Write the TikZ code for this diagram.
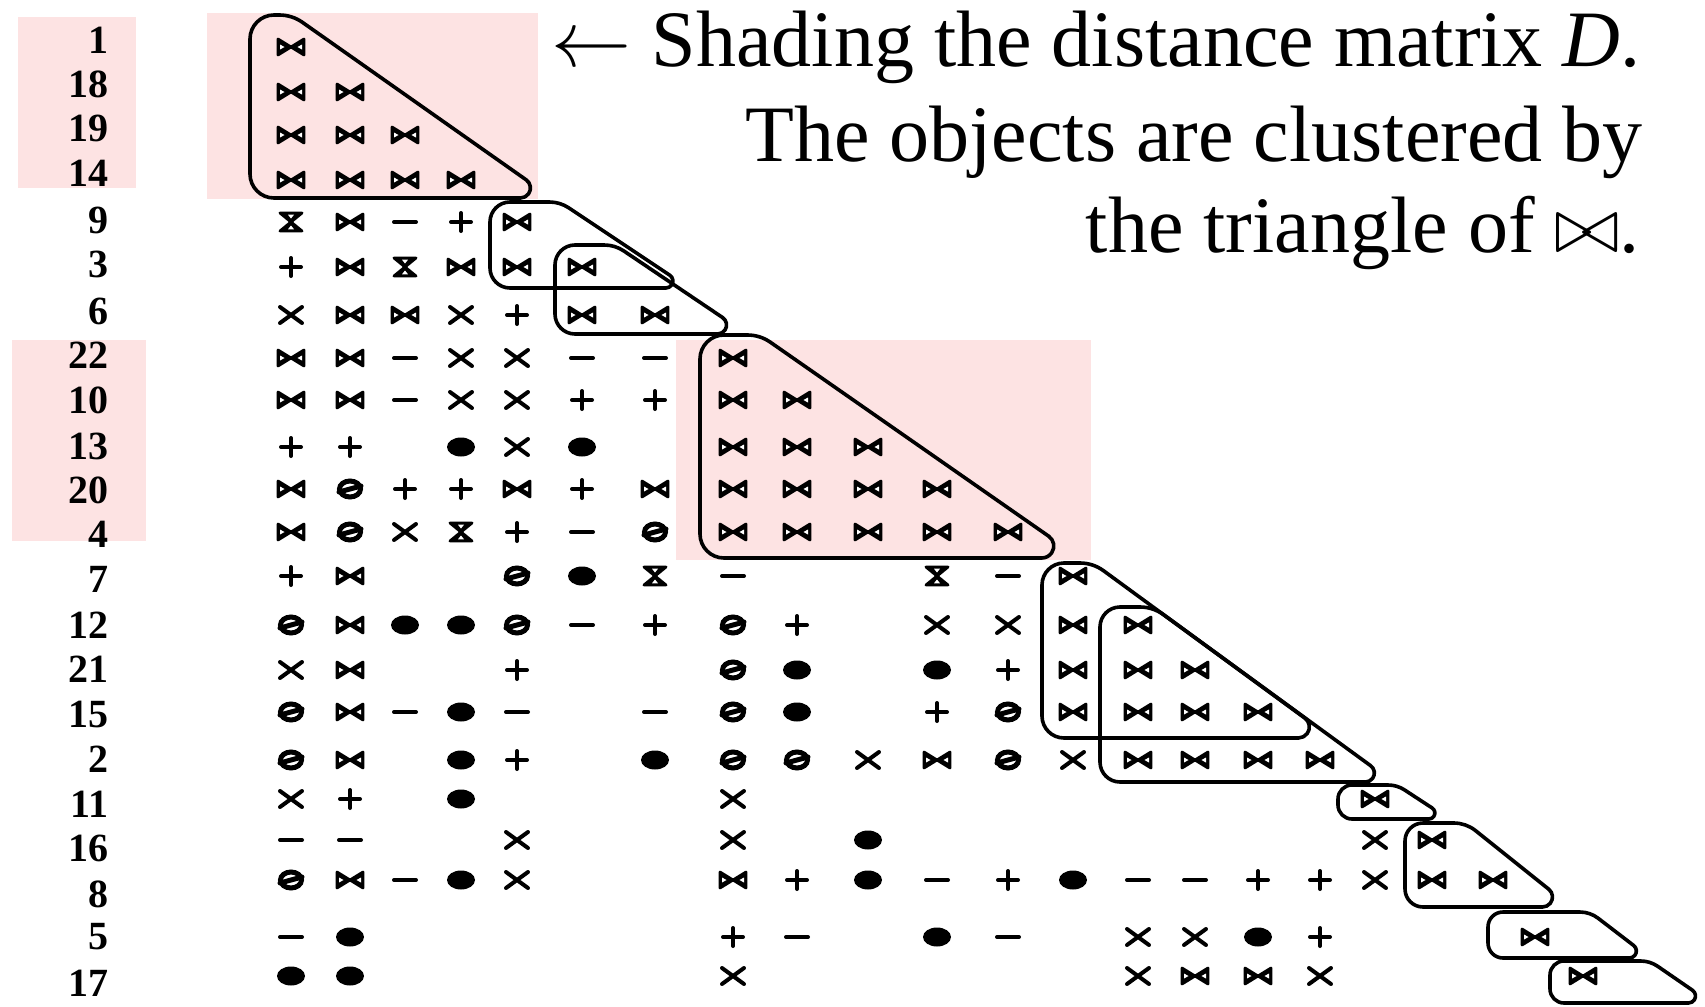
\RequirePackage{fix-cm}
\documentclass[tikz,border=0pt]{standalone}
\usepackage{fontspec}
\newfontfamily\tnr{Liberation Serif}
\definecolor{pinkbg}{RGB}{253,227,227}
% one matrix entry: #1 symbol code, #2 x, #3 y
\newcommand\symat[3]{%
 \begin{scope}[shift={(#2,#3)}]
 \if b#1\filldraw[symline] (-13,-8)--(-13,8)--(13,-8)--(13,8)--cycle;
   \fill[white] (-11,-2.5)--(-11,2.5)--(-6.5,0)--cycle (11,-2.5)--(11,2.5)--(6.5,0)--cycle;\fi
 \if h#1\filldraw[symline] (-11,-9)--(11,-9)--(-11,9)--(11,9)--cycle;
   \fill[white] (-3,-7.3)--(3,-7.3)--(0,-3.5)--cycle (-3,7.3)--(3,7.3)--(0,3.5)--cycle;\fi
 \if t#1\draw[boldsym] (0,0) ellipse[x radius=10.5,y radius=8];\draw[boldsym] (-11,3)--(11,-3);\fi
 \if x#1\draw[thinsym] (-11,-8)--(11,8) (-11,8)--(11,-8);\fi
 \if p#1\draw[thinsym] (-10,0)--(10,0) (0,-9)--(0,9);\fi
 \if m#1\draw[thinsym] (-11,0)--(11,0);\fi
 \if d#1\fill (0,0) ellipse[x radius=14,y radius=9.5];\fi
 \end{scope}}
% rounded right triangle: xL, yT, xT, xR, yB, left radius, top-right radius, tip radius
\newcommand\rtri[8]{%
 \pgfmathsetmacro\phiang{atan((#5-#2)/(#4-#3))}%
 \pgfmathsetmacro\tthree{#7*tan(\phiang/2)}%
 \pgfmathsetmacro\tfour{#8/tan(\phiang/2)}%
 \draw[triline] (#1,#5-#6) -- (#1,#2+#6)
   arc[start angle=180,end angle=270,radius=#6]
   -- ({#3-\tthree},#2)
   arc[start angle=270,end angle={270+\phiang},radius=#7]
   -- ({#4-\tfour*cos(\phiang)},{#5-\tfour*sin(\phiang)})
   arc[start angle={270+\phiang},end angle=450,radius=#8]
   -- (#1+#6,#5)
   arc[start angle=90,end angle=180,radius=#6] -- cycle;}
\begin{document}
\begin{tikzpicture}[x=0.5pt,y=-0.5pt,
  symline/.style={line width=1.4pt,line join=round,fill=black},
  boldsym/.style={line width=2.5pt,line cap=round},
  thinsym/.style={line width=2pt,line cap=round},
  triline/.style={line width=1.8pt,line join=round},
  lbl/.style={anchor=east,inner sep=0pt,font=\tnr\bfseries\fontsize{20}{24}\selectfont},
  txt/.style={anchor=base east,inner sep=0pt,font=\tnr\fontsize{40}{48}\selectfont}]
\useasboundingbox (0,0) rectangle (1705,1007);
\fill[white] (0,0) rectangle (1705,1007);
% shading
\fill[pinkbg] (18,17) rectangle (136,188);
\fill[pinkbg] (207,13) rectangle (538,199);
\fill[pinkbg] (12,340) rectangle (146,541);
\fill[pinkbg] (676,340) rectangle (1091,560);
% row labels
\def\laby{{40,84,128,173,220,264,311,355,400,446,490,534,579,625,669,714,759,804,848,894,937,983}}
\foreach \lab [count=\ii] in {1,18,19,14,9,3,6,22,10,13,20,4,7,12,21,15,2,11,16,8,5,17} {
  \pgfmathsetmacro\ly{\laby[\ii-1]}
  \node[lbl] (lab\ii) at (109,\ly) {\lab};
}
% matrix entries
\def\colx{{291,350,405,461,517,582,655,733,797,868,937,1008,1073,1138,1195,1258,1320,1375,1432,1493,1535,1583}}
\def\rowy{{47,92,135,180,222,267,315,358,400,447,489,532,576,625,670,712,760,799,840,880,937,976}}
\foreach \rowsyms [count=\ri] in {
 {b},
 {b,b},
 {b,b,b},
 {b,b,b,b},
 {h,b,m,p,b},
 {p,b,h,b,b,b},
 {x,b,b,x,p,b,b},
 {b,b,m,x,x,m,m,b},
 {b,b,m,x,x,p,p,b,b},
 {p,p,o,d,x,d,o,b,b,b},
 {b,t,p,p,b,p,b,b,b,b,b},
 {b,t,x,h,p,m,t,b,b,b,b,b},
 {p,b,o,o,t,d,h,m,o,o,h,m,b},
 {t,b,d,d,t,m,p,t,p,o,x,x,b,b},
 {x,b,o,o,p,o,o,t,d,o,d,p,b,b,b},
 {t,b,m,d,m,o,m,t,d,o,p,t,b,b,b,b},
 {t,b,o,d,p,o,d,t,t,x,b,t,x,b,b,b,b},
 {x,p,o,d,o,o,o,x,o,o,o,o,o,o,o,o,o,b},
 {m,m,o,o,x,o,o,x,o,d,o,o,o,o,o,o,o,x,b},
 {t,b,m,d,x,o,o,b,p,d,m,p,d,m,m,p,p,x,b,b},
 {m,d,o,o,o,o,o,p,m,o,d,m,o,x,x,d,p,o,o,o,b},
 {d,d,o,o,o,o,o,x,o,o,o,o,o,x,b,b,x,o,o,o,o,b}} {
  \pgfmathsetmacro\yy{\rowy[\ri-1]}
  \foreach \sy [count=\ci] in \rowsyms {
    \pgfmathsetmacro\xx{\colx[\ci-1]}
    \symat{\sy}{\xx}{\yy}
  }
}
% cluster outlines
\rtri{250}{15}{292}{552}{198}{24}{40}{10}
\rtri{490}{202}{560}{689}{288}{20}{35}{7}
\rtri{555}{245}{615}{747}{334}{20}{35}{9}
\rtri{700}{335}{760}{1080}{558}{24}{40}{12}
\rtri{1042}{563}{1093}{1332}{738}{22}{40}{11}
\rtri{1100}{607}{1153}{1393}{782}{20}{40}{9}
\rtri{1338}{785}{1397}{1449}{819}{14}{30}{6}
\rtri{1405}{823}{1466}{1571}{907}{18}{35}{10}
\rtri{1488}{912}{1590}{1650}{958}{15}{30}{7}
\rtri{1550}{961}{1650}{1711}{1003}{14}{30}{7}
% caption text
\node[txt] (l1) at (1641,66) {$\leftarrow$ Shading the distance matrix \textit{D}.};
\node[txt] (l2) at (1643,161) {The objects are clustered by};
\node[txt] (l3) at (1640,252) {the triangle of $\bowtie$.};
\end{tikzpicture}
\end{document}
